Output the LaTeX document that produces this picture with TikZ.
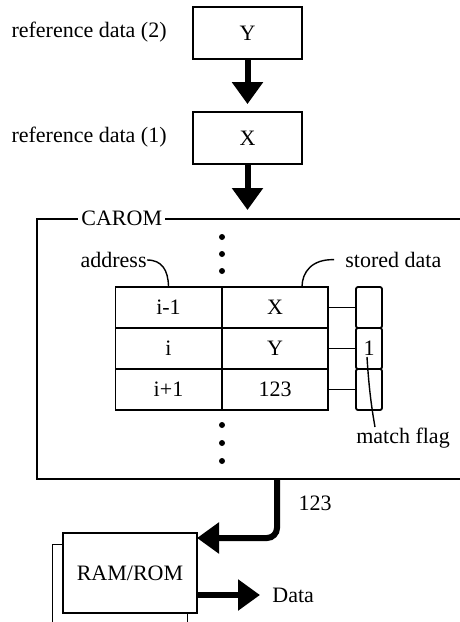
\documentclass[tikz,border=0pt]{standalone}
\usepackage{fontspec}
\setmainfont{Liberation Serif}
\usetikzlibrary{arrows.meta}
\begin{document}
\begin{tikzpicture}[x=0.5pt, y=-0.5pt, font=\fontsize{11}{13}\selectfont,
  box/.style={draw, line width=0.9pt, inner sep=0pt, minimum width=54.5pt, minimum height=26pt},
  cell/.style={draw, line width=0.9pt, inner sep=0pt, minimum width=53pt, minimum height=20.5pt},
  flagcell/.style={draw, line width=0.9pt, inner sep=0pt, minimum width=13pt, minimum height=20.5pt, rounded corners=1pt},
  bigarrow/.style={line width=3pt, -{Triangle[length=11pt,width=15pt]}},
  lbl/.style={inner sep=0pt},
  dot/.style={circle, fill, inner sep=0pt, minimum size=3pt},
  leader/.style={line width=0.7pt}]
\path[use as bounding box, clip] (0,0) rectangle (460,622);
\node[box] (boxY) at (247.5,33){Y};
\node[box] (boxX) at (247.5,138){X};
\node[lbl, anchor=east] (ref2) at (167,32){reference data (2)};
\node[lbl, anchor=east] (ref1) at (167,137){reference data (1)};
\node[draw, line width=0.9pt, anchor=north west, minimum width=222pt, minimum height=130pt, inner sep=0pt] (carom) at (36,218){};
\node[lbl, fill=white, inner xsep=1.5pt, anchor=west] (caromlbl) at (78,218){CAROM};
\coordinate (caromin) at (247.5,218);
\draw[bigarrow, shorten >=3.5pt] (boxY) -- (boxX);
\draw[bigarrow, shorten >=4pt] (boxX) -- (caromin);
\node[dot] (dottop1) at (222,237){};
\node[dot] (dottop2) at (222,254){};
\node[dot] (dottop3) at (222,271){};
\node[cell] (addr1) at (168.5,307.5){i-1};
\node[cell] (data1) at (275,307.5){X};
\node[flagcell] (flag1) at (369,307.5){};
\node[cell] (addr2) at (168.5,348.5){i};
\node[cell] (data2) at (275,348.5){Y};
\node[flagcell] (flag2) at (369,348.5){1};
\node[cell] (addr3) at (168.5,389.5){i+1};
\node[cell] (data3) at (275,389.5){123};
\node[flagcell] (flag3) at (369,389.5){};
\draw[line width=0.9pt] (data1) -- (flag1);
\draw[line width=0.9pt] (data2) -- (flag2);
\draw[line width=0.9pt] (data3) -- (flag3);
\node[dot] (dotbot1) at (222,425){};
\node[dot] (dotbot2) at (222,443){};
\node[dot] (dotbot3) at (222,461){};
\node[lbl, anchor=east] (addrlbl) at (147,260){address};
\draw[leader] (addrlbl.east) .. controls (162,260) and (168,270) .. (addr1.north);
\node[lbl, anchor=west] (storedlbl) at (345,260){stored data};
\coordinate (storedend) at (302,287);
\draw[leader, shorten <=5.5pt] (storedlbl.west) .. controls (312,259) and (302,272) .. (storedend);
\node[lbl] (flaglbl) at (403,438){match flag};
\coordinate (flagpt) at (367,357);
\coordinate (flagend) at (375,427);
\draw[leader] (flagpt) .. controls (369,390) and (372,410) .. (flagend);
\node[lbl] (outval) at (315,503){123};
\coordinate (caromout) at (277,478);
\coordinate (ramin) at (197,538);
\node[draw, line width=0.6pt, anchor=north west, minimum width=67.5pt, minimum height=50pt, inner sep=0pt] (ramback) at (52,544){};
\node[draw, fill=white, line width=0.9pt, minimum width=67pt, minimum height=40pt, inner sep=0pt] (ram) at (130,573){RAM/ROM};
\draw[bigarrow, rounded corners=5pt] (caromout) |- (ramin);
\coordinate (ramout) at (197,595);
\node[lbl, anchor=west] (datalbl) at (272,595){Data};
\draw[bigarrow, shorten >=6pt] (ramout) -- (datalbl.west);
\end{tikzpicture}
\end{document}
